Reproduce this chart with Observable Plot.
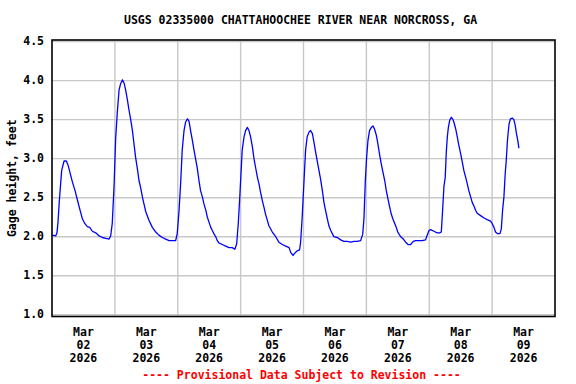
<!DOCTYPE html>
<html><head><meta charset="utf-8">
<script src="https://cdn.jsdelivr.net/npm/d3@7"></script>
<script src="https://cdn.jsdelivr.net/npm/@observablehq/plot@0.6"></script>
<style>body{margin:0;background:#fff} svg{display:block}</style>
</head><body><div id="chart"></div>
<script>
const titleText = "USGS 02335000 CHATTAHOOCHEE RIVER NEAR NORCROSS, GA";
const yLabel = "Gage height, feet";
const captionText = "---- Provisional Data Subject to Revision ----";

// hours since 2026-03-02 00:00, and gage height (feet)
const hoursA = [0.1,1.4,1.9,2.3,2.8,3.3,3.7,4.6,5.5,6.1, 6.8,7.8,8.8,9.7,10.7,11.6,12.5,13.5,14.4,15.4, 16.7,18.0,19.2,20.5,21.8,22.4,23.0,23.7,24.3,24.9, 25.6,26.2,26.9,27.5,28.1,28.8,29.4,30.0,30.7,31.3, 31.9,32.6,33.2,33.9,34.5,35.1,35.8,37.0,38.3,39.6, 40.8,42.1,43.4,44.7,47.2];
const gageA  = [2.02,2.01,2.05,2.19,2.46,2.68,2.85,2.97,2.97,2.92, 2.83,2.70,2.59,2.47,2.34,2.23,2.17,2.13,2.12,2.07, 2.05,2.01,1.99,1.98,1.97,2.01,2.17,2.66,3.26,3.58, 3.88,3.96,4.01,3.97,3.88,3.75,3.62,3.51,3.36,3.19, 3.02,2.87,2.72,2.62,2.51,2.42,2.32,2.21,2.12,2.06, 2.02,1.99,1.97,1.95,1.95];
const hoursB = [47.8,48.5,49.1,49.7,50.4,51.0,51.7,52.3,52.9,53.6, 54.2,54.8,55.5,56.1,56.7,57.4,58.0,58.7,59.3,59.9, 60.6,61.2,61.8,62.5,63.1,63.7,65.0,66.3,67.6,68.8, 69.8,70.5,71.1,71.6,72.1,72.6,73.3,73.9,74.6,75.2, 75.8,76.5,77.1,77.7,78.4,79.0,79.6,80.3,80.9,81.5, 82.2,82.8,84.1,85.4,86.6,87.9,89.2,90.5,91.1,92.0, 92.7,93.6,94.5];
const gageB  = [2.04,2.34,2.68,3.11,3.36,3.47,3.51,3.48,3.36,3.23, 3.11,3.00,2.87,2.72,2.59,2.51,2.42,2.34,2.25,2.19, 2.12,2.08,2.04,2.00,1.95,1.92,1.90,1.88,1.86,1.86, 1.84,1.91,2.17,2.46,2.78,3.11,3.28,3.36,3.40,3.36, 3.28,3.15,3.00,2.89,2.76,2.68,2.57,2.46,2.38,2.29, 2.21,2.14,2.06,2.00,1.93,1.90,1.88,1.86,1.80,1.76, 1.79,1.82,1.83];
const hoursC = [94.9,95.5,96.2,96.8,97.4,98.1,98.7,99.4,100.0,100.6, 101.3,101.9,102.5,103.2,103.8,104.4,105.1,105.7,106.4,107.0, 107.6,108.9,110.2,111.4,112.7,114.0,115.3,116.5,117.8,118.6, 119.1,119.6,120.1,120.6,121.2,121.9,122.5,123.1,123.8,124.4, 125.0,125.7,126.3,127.0,127.6,128.2,128.9,129.5,130.1,130.8, 131.4,132.0,133.1,134.1,135.0,135.9,136.9,137.9,138.8,140.1, 141.3,142.6];
const gageC  = [1.93,2.25,2.72,3.11,3.28,3.34,3.36,3.32,3.21,3.09, 2.96,2.85,2.74,2.59,2.44,2.34,2.23,2.14,2.08,2.04, 2.00,1.99,1.96,1.94,1.94,1.93,1.94,1.94,1.95,2.03, 2.25,2.72,3.02,3.23,3.36,3.40,3.42,3.38,3.30,3.19, 3.06,2.93,2.83,2.72,2.59,2.49,2.38,2.29,2.23,2.17, 2.12,2.06,2.00,1.97,1.93,1.90,1.90,1.94,1.95,1.95, 1.95,1.96];
const hoursD = [143.0,143.9,144.5,145.8,146.4,147.1,148.0,148.6,149.1,149.6, 150.1,150.5,150.9,151.3,151.8,152.4,152.9,153.4,154.1,154.7, 155.3,156.0,156.6,157.2,157.9,158.5,159.1,159.8,160.4,161.1, 161.7,162.3,163.6,164.9,166.1,167.4,168.0,168.7,169.3,170.0, 171.0,171.5,172.0,172.5,173.0,173.4,173.8,174.2,174.5,175.0, 175.7,176.3,176.8,177.3,177.8,178.2];
const gageD  = [2.00,2.08,2.09,2.07,2.06,2.05,2.05,2.06,2.34,2.64, 2.76,3.08,3.28,3.40,3.49,3.53,3.51,3.47,3.38,3.28, 3.17,3.06,2.96,2.85,2.76,2.68,2.59,2.51,2.44,2.39, 2.34,2.30,2.27,2.24,2.22,2.20,2.17,2.12,2.06,2.04, 2.04,2.10,2.34,2.51,2.81,2.98,3.21,3.36,3.45,3.51, 3.52,3.50,3.43,3.32,3.23,3.14];

const dayLabels = ["2026-03-02","2026-03-03","2026-03-04","2026-03-05","2026-03-06","2026-03-07","2026-03-08","2026-03-09"];
const yTicks = [1.0,1.5,2.0,2.5,3.0,3.5,4.0,4.5];

const hours = [...hoursA, ...hoursB, ...hoursC, ...hoursD];
const gage = [...gageA, ...gageB, ...gageC, ...gageD];
if (hours.length !== gage.length) throw new Error("length mismatch " + hours.length + " " + gage.length);

const start = Date.UTC(2026, 2, 2);
const data = hours.map((h, i) => ({t: new Date(start + h * 3600e3), v: gage[i]}));
const labelDates = dayLabels.map(s => new Date(Date.parse(s + "T12:00:00Z")));
const gridDates = dayLabels.slice(1).map(s => new Date(Date.parse(s + "T00:00:00Z")));
const fmt = d3.utcFormat("%b\n%d\n%Y");

const font = "'DejaVu Sans Mono', monospace";
const chart = Plot.plot({
  width: 576, height: 384,
  marginLeft: 51.5, marginRight: 21.5, marginTop: 39.5, marginBottom: 68,
  style: {fontFamily: font, fontSize: "11.5px", fontWeight: "bold", background: "#fff", color: "#000", overflow: "visible"},
  x: {type: "utc", domain: [new Date(start), new Date(start + 8 * 864e5)]},
  y: {domain: [0.978, 4.52]},
  marks: [
    Plot.gridX(gridDates, {stroke: "#c8c8c8", strokeOpacity: 1, strokeWidth: 1.4}),
    Plot.gridY(yTicks, {stroke: "#c8c8c8", strokeOpacity: 1, strokeWidth: 1.4}),
    Plot.line(data, {x: "t", y: "v", stroke: "#0000ff", strokeWidth: 1.3}),
    Plot.frame({stroke: "#000", strokeWidth: 1.6}),
    Plot.axisX(labelDates, {tickSize: 0, tickPadding: 10, tickFormat: fmt, lineHeight: 1.13, label: null, fontWeight: "bold"}),
    Plot.axisY(yTicks, {tickSize: 0, tickPadding: 8, tickFormat: d3.format(".1f"), label: null, fontWeight: "bold"}),
    Plot.text([titleText], {text: d => d, frameAnchor: "top", lineAnchor: "middle", textAnchor: "middle", dy: -19.5, dx: -3, fontWeight: "bold", fill: "#000"}),
    Plot.text([yLabel], {text: d => d, frameAnchor: "left", lineAnchor: "middle", textAnchor: "middle", rotate: -90, dx: -40, fontWeight: "bold", fill: "#000"}),
    Plot.text([captionText], {text: d => d, frameAnchor: "bottom", lineAnchor: "middle", textAnchor: "middle", dy: 59, dx: -2, fontWeight: "bold", fill: "#ff0000"})
  ]
});
document.getElementById("chart").appendChild(chart);
</script>
</body></html>
